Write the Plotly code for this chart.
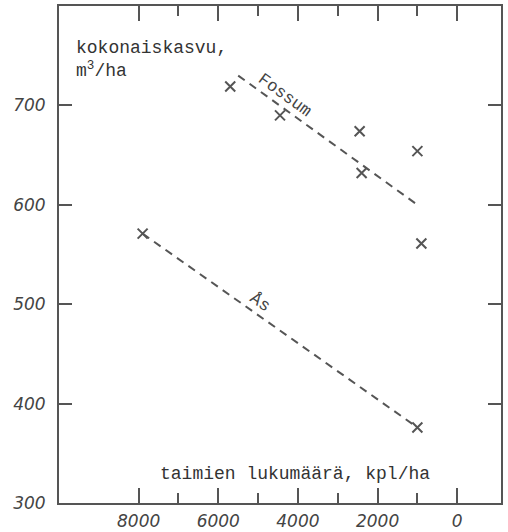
import plotly.graph_objects as go

# Data
fossum_x = [5700, 4450, 2450, 2400, 1000, 900]
fossum_y = [719, 690, 674, 632, 654, 561]
as_x = [7900, 1000]
as_y = [571, 376]
fossum_line_x = [5500, 1000]
fossum_line_y = [730, 600]
as_line_x = [7900, 1000]
as_line_y = [571, 376]
x_tickvals = [8000, 6000, 4000, 2000, 0]
x_ticktext = ["8000", "6000", "4000", "2000", "0"]
y_tickvals = [300, 400, 500, 600, 700]
y_ticktext = ["300", "400", "500", "600", "700"]

ink = "#555555"
mono = "Liberation Mono, Courier New, monospace"
tickfont = dict(family="DejaVu Sans", size=17, color="#444444")

fig = go.Figure()
fig.add_trace(go.Scatter(x=fossum_line_x, y=fossum_line_y, mode="lines",
                         line=dict(color=ink, width=2, dash="8px,6px"), showlegend=False))
fig.add_trace(go.Scatter(x=as_line_x, y=as_line_y, mode="lines",
                         line=dict(color=ink, width=2, dash="8px,6px"), showlegend=False))
fig.add_trace(go.Scatter(x=fossum_x, y=fossum_y, mode="markers",
                         marker=dict(symbol="x-thin", size=10, line=dict(color=ink, width=2)),
                         showlegend=False))
fig.add_trace(go.Scatter(x=as_x, y=as_y, mode="markers",
                         marker=dict(symbol="x-thin", size=10, line=dict(color=ink, width=2)),
                         showlegend=False))

fig.add_annotation(x=4330, y=710, xref="x", yref="y", text="Fossum", showarrow=False,
                   textangle=36, font=dict(family=mono, size=17, color="#444444"))
fig.add_annotation(x=4950, y=502, xref="x", yref="y", text="Ås", showarrow=False,
                   textangle=35, font=dict(family=mono, size=17, color="#444444"))
fig.add_annotation(x=0.035, y=0.94, xref="paper", yref="paper",
                   text="kokonaiskasvu,<br>m<sup>3</sup>/ha", showarrow=False,
                   xanchor="left", yanchor="top", align="left",
                   font=dict(family=mono, size=18, color="#333333"))
fig.add_annotation(x=0.534, y=0.058, xref="paper", yref="paper",
                   text="taimien lukumäärä, kpl/ha", showarrow=False,
                   xanchor="center", yanchor="middle",
                   font=dict(family=mono, size=18, color="#333333"))

fig.update_layout(
    width=508, height=532,
    margin=dict(l=59, r=7, t=6, b=29),
    paper_bgcolor="white", plot_bgcolor="white",
    xaxis=dict(range=[10000, -1100], tickvals=x_tickvals,
               ticktext=["<i>%s</i>" % t for t in x_ticktext],
               ticks="inside", ticklen=15, tickwidth=2, tickcolor=ink,
               minor=dict(tickvals=[7000, 5000, 3000, 1000], ticks="inside",
                          ticklen=10, tickwidth=2, tickcolor=ink),
               showline=True, linecolor=ink, linewidth=2, mirror="ticks",
               showgrid=False, zeroline=False, tickfont=tickfont, ticklabelstandoff=2,
               automargin=False),
    yaxis=dict(range=[300, 800], tickvals=y_tickvals,
               ticktext=["<i>%s</i>" % t for t in y_ticktext],
               ticks="inside", ticklen=13, tickwidth=2, tickcolor=ink,
               showline=True, linecolor=ink, linewidth=2, mirror="ticks",
               showgrid=False, zeroline=False, tickfont=tickfont, ticklabelstandoff=8,
               automargin=False),
)

fig.write_html("out.html")
